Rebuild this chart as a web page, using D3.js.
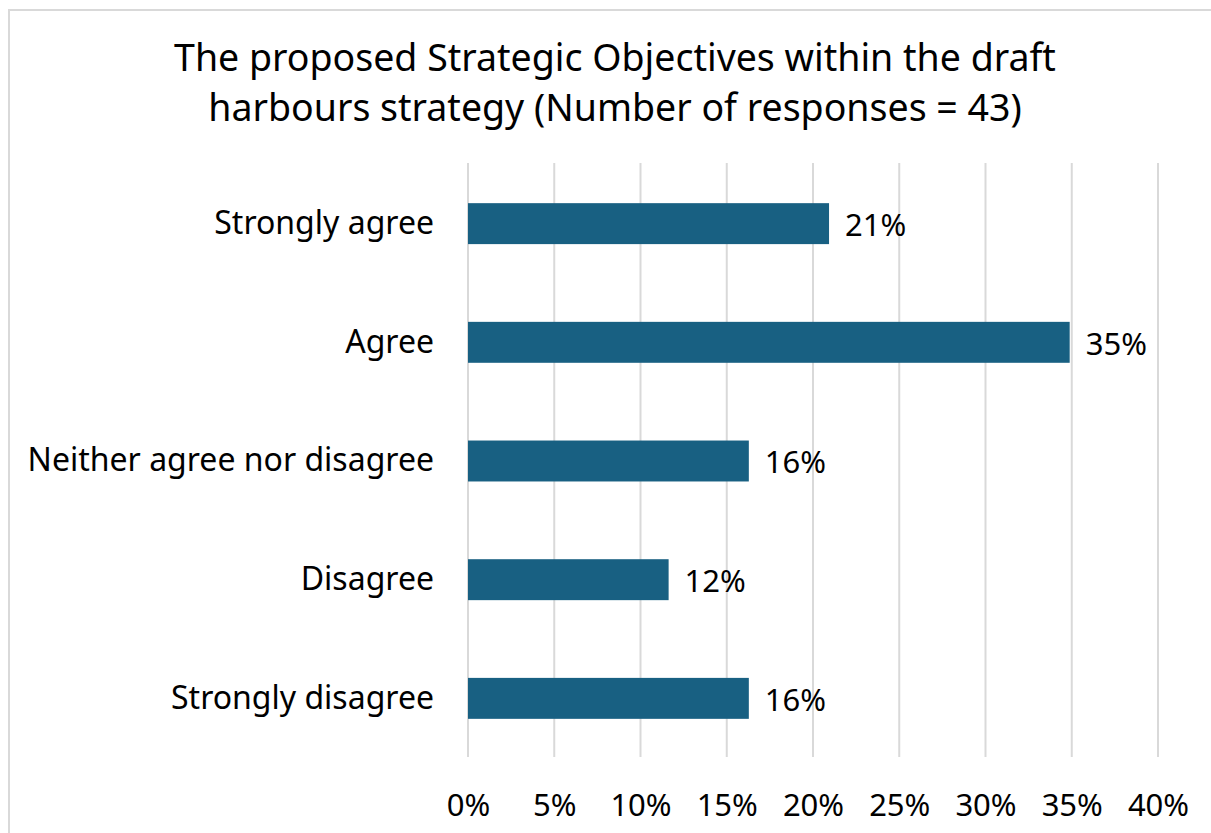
<!DOCTYPE html>
<html>
<head>
<meta charset="utf-8">
<script src="https://cdn.jsdelivr.net/npm/d3@7/dist/d3.min.js"></script>
<style>
  html, body { margin: 0; padding: 0; background: #fff; }
  svg { display: block; }
  text { font-family: "Noto Sans", "Open Sans", sans-serif; fill: #000; }
</style>
</head>
<body>
<svg id="chart" width="1211" height="833"></svg>
<script>
// Survey responses (share of 43 responses, in percent)
const categories = ["Strongly agree", "Agree", "Neither agree nor disagree", "Disagree", "Strongly disagree"];
const shares = [20.93, 34.88, 16.28, 11.63, 16.28];
const tickValues = [0, 5, 10, 15, 20, 25, 30, 35, 40];
const titleLines = [
  "The proposed Strategic Objectives within the draft",
  "harbours strategy (Number of responses = 43)"
];

const svg = d3.select("#chart");
const W = 1211, H = 833;
const margin = { top: 163, right: 53, bottom: 76, left: 468 };

// Chart frame
svg.append("rect")
  .attr("x", 9).attr("y", 10)
  .attr("width", W + 10).attr("height", H + 10)
  .attr("fill", "#fff")
  .attr("stroke", "#d9d9d9")
  .attr("stroke-width", 2);

// Title
svg.append("g").selectAll("text")
  .data(titleLines)
  .join("text")
  .attr("x", 615)
  .attr("y", (d, i) => 71 + i * 50)
  .attr("text-anchor", "middle")
  .attr("font-size", 37.5)
  .text(d => d);

const x = d3.scaleLinear()
  .domain([0, 40])
  .range([margin.left, W - margin.right]);

const y = d3.scaleBand()
  .domain(categories)
  .range([margin.top + 1, H - margin.bottom + 1])
  .paddingInner(0.655)
  .paddingOuter(0.33);

// Vertical gridlines
svg.append("g")
  .selectAll("line")
  .data(tickValues)
  .join("line")
  .attr("x1", d => x(d)).attr("x2", d => x(d))
  .attr("y1", margin.top).attr("y2", H - margin.bottom)
  .attr("stroke", "#d9d9d9")
  .attr("stroke-width", 2);

// Bars
svg.append("g")
  .selectAll("rect")
  .data(categories)
  .join("rect")
  .attr("x", x(0))
  .attr("y", d => y(d))
  .attr("width", (d, i) => x(shares[i]) - x(0))
  .attr("height", y.bandwidth())
  .attr("fill", "#186082");

// Value labels
svg.append("g")
  .selectAll("text")
  .data(categories)
  .join("text")
  .attr("x", (d, i) => x(shares[i]) + 16)
  .attr("y", d => y(d) + y.bandwidth() / 2)
  .attr("dy", "0.4em")
  .attr("font-size", 31)
  .text((d, i) => Math.round(shares[i]) + "%");

// Category axis
const yAxis = svg.append("g")
  .attr("transform", `translate(${margin.left},0)`)
  .call(d3.axisLeft(y).tickSize(0).tickPadding(34));
yAxis.select(".domain").remove();
yAxis.selectAll("text")
  .attr("font-size", 32)
  .attr("fill", "#000")
  .style("font-family", '"Noto Sans", "Open Sans", sans-serif');

// Percentage axis
const xAxis = svg.append("g")
  .attr("transform", `translate(0,${H - margin.bottom})`)
  .call(d3.axisBottom(x).tickValues(tickValues).tickSize(0).tickPadding(37).tickFormat(d => d + "%"));
xAxis.select(".domain").remove();
xAxis.selectAll("text")
  .attr("font-size", 31)
  .attr("fill", "#000")
  .style("font-family", '"Noto Sans", "Open Sans", sans-serif');
</script>
</body>
</html>
